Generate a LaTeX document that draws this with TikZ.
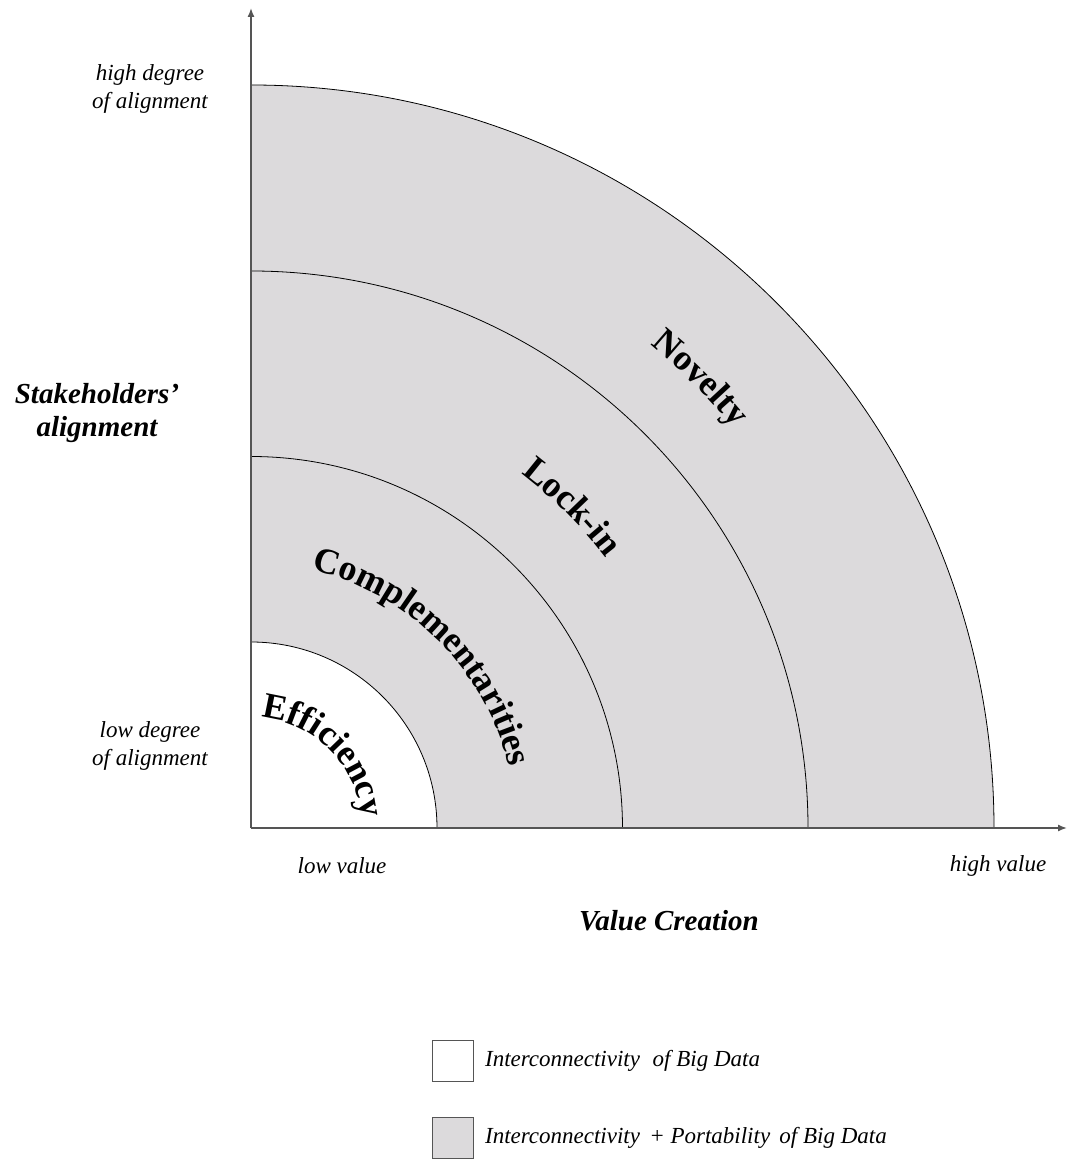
\documentclass[tikz,border=0pt]{standalone}
\usepackage{fontspec}
\setmainfont{Liberation Serif}
\usetikzlibrary{arrows.meta,decorations.text,positioning}
\definecolor{bandgray}{RGB}{220,218,220}
\definecolor{axisgray}{RGB}{85,85,85}
\newcommand\ringfont{\fontsize{36}{36}\selectfont\bfseries}
\newcommand\tickfont{\fontsize{23}{28}\selectfont\itshape}
\newcommand\axisfont{\fontsize{29}{33}\selectfont\bfseries\itshape}
\tikzset{
  ticklabel/.style={align=center,font=\tickfont,inner sep=0pt},
  axislabel/.style={align=center,font=\axisfont,inner sep=0pt},
  legendbox/.style={draw=axisgray,line width=0.8pt,minimum size=41pt,inner sep=0pt},
  legendtext/.style={anchor=west,font=\fontsize{23}{23}\selectfont\itshape,inner sep=0pt}
}
\begin{document}
\begin{tikzpicture}[x=1pt,y=1pt]
  \useasboundingbox (0,0) rectangle (1067,1160);
  \coordinate (O) at (251,332);
  \coordinate (ytop) at (251,1152);
  \coordinate (xend) at (1067,332);
  % bands
  \path[fill=bandgray] (O) -- ++(0:743) arc[start angle=0,end angle=90,radius=743] -- cycle;
  \path[fill=white] (O) -- ++(0:186) arc[start angle=0,end angle=90,radius=186] -- cycle;
  \foreach \r in {186,371.5,557,743} {
    \path[draw,line width=0.8pt] (O) ++(0:\r) arc[start angle=0,end angle=90,radius=\r];
  }
  % axes
  \path[draw,axisgray,line width=1.4pt,-{Latex[length=9pt,width=7pt]}] (O) -- (ytop);
  \path[draw,axisgray,line width=1.4pt,-{Latex[length=9pt,width=7pt]}] (O) -- (xend);
  % curved labels
  \foreach \r / \word in {111/Efficiency, 265/Complementarities, 446/Lock-in, 627/Novelty} {
    \path[decorate,decoration={text along path,text align=center,
        text/.expanded={|\noexpand\ringfont|\word}}]
      (O) ++(90:\r) arc[start angle=90,end angle=0,radius=\r];
  }
  % axis labels
  \node[ticklabel] (highalign) at (150,1071) {high degree\\of alignment};
  \node[ticklabel] (lowalign) at (150,414) {low degree\\of alignment};
  \node[axislabel] (yname) at (97,747) {Stakeholders’\\alignment};
  \node[ticklabel] (lowval) at (342,294) {low value};
  \node[ticklabel] (highval) at (998,294) {high value};
  \node[axislabel] (xname) at (669,239) {Value Creation};
  % legend
  \node[legendbox] (plainbox) at (453,99.5) {};
  \node[legendbox,fill=bandgray] (graybox) at (453,22.5) {};
  \node[legendtext,right=11pt of plainbox] (plaintext) {Interconnectivity\hspace{0.3em} of Big Data};
  \node[legendtext,right=11pt of graybox] (graytext) {Interconnectivity\hspace{0.15em} + Portability\hspace{0.15em} of Big Data};
\end{tikzpicture}
\end{document}
